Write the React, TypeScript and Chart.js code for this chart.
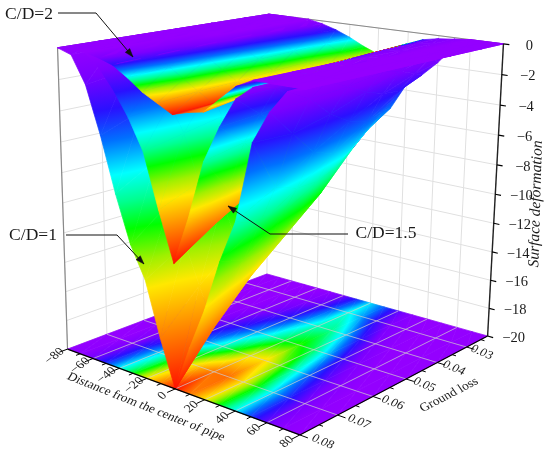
import React, { useEffect, useRef } from "react";
import { Chart, registerables } from "chart.js";
Chart.register(...registerables);

// ---------- data ----------
const distances = [-80, -70, -60, -50, -40, -30, -20, -10, 0, 10, 20, 30, 40, 50, 60, 70, 80];
const groundLoss = [0.0225, 0.03, 0.04, 0.05, 0.06, 0.07, 0.08];
const distanceTicks = [-80, -60, -40, -20, 0, 20, 40, 60, 80];
const groundLossTicks = [0.03, 0.04, 0.05, 0.06, 0.07, 0.08];
const depthTicks = [0, -2, -4, -6, -8, -10, -12, -14, -16, -18, -20];

const surfaceCD1 = [
  [0, 0, -0.1, -0.5, -1.5, -2.5, -4, -5.3, -6.4, -5.4, -3.6, -2.8, -1.8, -0.6, 0, 0, 0],
  [0, 0, -0.2, -0.8, -2, -3.5, -5, -6.5, -8, -6.5, -5, -3.5, -2.2, -0.9, -0.2, 0, 0],
  [0, 0, -0.4, -1.4, -3, -5, -7, -8.5, -10.5, -8.5, -7, -5, -3, -1.4, -0.4, 0, 0],
  [0, 0, -0.8, -2.2, -4.2, -6.5, -8.5, -10.5, -12.5, -10.5, -8.5, -6.5, -4.2, -2.2, -0.8, 0, 0],
  [0, -0.1, -1.2, -3, -5.5, -8, -10, -12.5, -14.5, -12.5, -10, -8, -5.5, -3, -1.2, -0.1, 0],
  [0, -0.2, -1.6, -4, -7, -9.5, -12, -14.5, -17, -14.5, -12, -9.5, -7, -3.6, -1.4, -0.2, 0],
  [0, -0.3, -2, -5, -8.5, -11.5, -13.5, -17, -20, -17, -14.3, -11, -8.3, -3.5, -1.6, -0.3, 0],
];
const surfaceCD15 = [
  [0, 0, 0, -0.2, -0.8, -1.6, -2.6, -3.8, -4.6, -3.6, -2.4, -1.4, -0.6, -0.1, 0, 0, 0],
  [0, 0, 0, -0.3, -1, -1.9, -3, -4.2, -5.4, -4.2, -3, -1.9, -0.8, -0.2, 0, 0, 0],
  [0, 0, 0, -0.4, -1.2, -2.2, -3.4, -5, -6.4, -5, -3.4, -2.2, -0.9, -0.3, 0, 0, 0],
  [0, 0, 0, -0.5, -1.4, -2.6, -4, -5.8, -7.5, -5.8, -3.8, -2.4, -1, -0.3, 0, 0, 0],
  [0, 0, 0, -0.6, -1.6, -2.9, -4.4, -6.8, -8.9, -6.8, -4.2, -2.6, -1, -0.3, 0, 0, 0],
  [0, 0, 0, -0.7, -1.8, -3.2, -4.9, -7.8, -10.3, -7.8, -4.7, -2.8, -1.1, -0.4, 0, 0, 0],
  [0, 0, 0, -0.8, -2, -3.5, -5.4, -8.8, -11.9, -8.8, -5.2, -3, -1.2, -0.4, 0, 0, 0],
];
const surfaceCD2 = [
  [0, 0, 0, 0, -0.2, -0.5, -0.9, -1.4, -1.8, -1.3, -0.8, -0.4, -0.2, -0.1, 0, 0, 0],
  [0, 0, 0, 0, -0.2, -0.5, -1, -1.5, -2, -1.4, -0.9, -0.5, -0.2, -0.1, 0, 0, 0],
  [0, 0, 0, 0, -0.2, -0.6, -1.1, -1.7, -2.2, -1.6, -1.1, -0.6, -0.2, -0.1, 0, 0, 0],
  [0, 0, 0, 0, -0.2, -0.7, -1.2, -1.8, -2.4, -1.8, -1.3, -0.8, -0.3, -0.05, 0, 0, 0],
  [0, 0, 0, -0.1, -0.3, -0.8, -1.4, -2, -2.5, -2.1, -1.6, -1, -0.4, 0, 0, 0, 0],
  [0, 0, 0, -0.1, -0.4, -0.9, -1.5, -2.1, -2.7, -2.3, -1.9, -1.2, -0.5, 0, 0, 0, 0],
  [0, 0, 0, -0.2, -0.5, -1.1, -1.8, -2.3, -2.8, -2.5, -2.3, -1.4, -0.5, 0, 0, 0, 0],
];
const floorLevels = [
  [0, 0, 0, 0, 0, 0.02, 0.08, 0.2, 0.35, 0.25, 0.12, 0.03, 0, 0, 0, 0, 0],
  [0, 0, 0, 0, 0.02, 0.06, 0.12, 0.25, 0.39, 0.3, 0.16, 0.06, 0.02, 0, 0, 0, 0],
  [0, 0, 0, 0.01, 0.05, 0.12, 0.2, 0.32, 0.42, 0.45, 0.33, 0.18, 0.06, 0.01, 0, 0, 0],
  [0, 0, 0, 0.05, 0.12, 0.2, 0.3, 0.4, 0.5, 0.55, 0.48, 0.32, 0.15, 0.06, 0.01, 0, 0],
  [0, 0, 0.03, 0.1, 0.2, 0.3, 0.42, 0.55, 0.68, 0.72, 0.6, 0.42, 0.25, 0.12, 0.04, 0, 0],
  [0, 0, 0.07, 0.2, 0.33, 0.47, 0.62, 0.76, 0.86, 0.87, 0.7, 0.52, 0.34, 0.2, 0.08, 0.01, 0],
  [0, 0.02, 0.1, 0.22, 0.37, 0.52, 0.7, 0.85, 1, 0.85, 0.7, 0.52, 0.37, 0.22, 0.1, 0.02, 0],
];

const rainbowStops: [number, string][] = [
  [0, "#9400ff"], [0.08, "#7a00ff"], [0.18, "#2a10ff"], [0.27, "#0070ff"], [0.37, "#00ffff"],
  [0.45, "#00ff90"], [0.53, "#00ff00"], [0.62, "#a0f000"], [0.7, "#ffe800"], [0.82, "#ff9000"], [1, "#ff1000"],
];

// ---------- box corners on screen (u, v, w) -> pixel ----------
const boxCorners: [number, number, number, number, number][] = [
  [0, 1, 0, 68, 349], [1, 1, 0, 300, 435], [1, 0, 0, 488, 336], [0, 0, 0, 266, 274],
  [0, 1, 1, 57, 48], [1, 1, 1, 305, 89], [1, 0, 1, 503, 44], [0, 0, 1, 270, 14],
];

function solve(A: number[][], b: number[]) {
  const n = b.length;
  const M = A.map((r, i) => [...r, b[i]]);
  for (let i = 0; i < n; i++) {
    let p = i;
    for (let k = i + 1; k < n; k++) if (Math.abs(M[k][i]) > Math.abs(M[p][i])) p = k;
    [M[i], M[p]] = [M[p], M[i]];
    for (let k = i + 1; k < n; k++) {
      const f = M[k][i] / M[i][i];
      for (let j = i; j <= n; j++) M[k][j] -= f * M[i][j];
    }
  }
  const x = new Array(n).fill(0);
  for (let i = n - 1; i >= 0; i--) {
    let s = M[i][n];
    for (let j = i + 1; j < n; j++) s -= M[i][j] * x[j];
    x[i] = s / M[i][i];
  }
  return x;
}
function fitCamera() {
  const rows: number[][] = [], rhs: number[] = [];
  for (const [X, Y, Z, x, y] of boxCorners) {
    rows.push([X, Y, Z, 1, 0, 0, 0, 0, -x * X, -x * Y, -x * Z]); rhs.push(x);
    rows.push([0, 0, 0, 0, X, Y, Z, 1, -y * X, -y * Y, -y * Z]); rhs.push(y);
  }
  const N = rows[0].map((_, i) => rows[0].map((_, j) => rows.reduce((s, r) => s + r[i] * r[j], 0)));
  const B = rows[0].map((_, i) => rows.reduce((s, r, k) => s + r[i] * rhs[k], 0));
  return solve(N, B);
}
const P = fitCamera();
const eye = solve(
  [[P[0], P[1], P[2]], [P[4], P[5], P[6]], [P[8], P[9], P[10]]],
  [-P[3], -P[7], -1]
);
const minGL = groundLoss[0], maxGL = groundLoss[groundLoss.length - 1];
const uOf = (d: number) => (d + 80) / 160;
const vOf = (g: number) => (g - minGL) / (maxGL - minGL);
const wOf = (z: number) => (z + 20) / 20;
function project(u: number, v: number, w: number) {
  const h = P[8] * u + P[9] * v + P[10] * w + 1;
  return { x: (P[0] * u + P[1] * v + P[2] * w + P[3]) / h, y: (P[4] * u + P[5] * v + P[6] * w + P[7]) / h };
}

function colorAt(t: number) {
  for (let i = 1; i < rainbowStops.length; i++) {
    if (t <= rainbowStops[i][0]) {
      const [a, ca] = rainbowStops[i - 1], [b, cb] = rainbowStops[i];
      const f = (t - a) / (b - a);
      const ch = (s: string, k: number) => parseInt(s.slice(1 + k * 2, 3 + k * 2), 16);
      const mix = [0, 1, 2].map((k) => Math.round(ch(ca, k) + (ch(cb, k) - ch(ca, k)) * f));
      return `rgb(${mix[0]},${mix[1]},${mix[2]})`;
    }
  }
  return rainbowStops[rainbowStops.length - 1][1];
}
function triangleFill(ctx: CanvasRenderingContext2D, p: any[], t: number[]) {
  const [a, b, c] = p;
  const det = (b.x - a.x) * (c.y - a.y) - (c.x - a.x) * (b.y - a.y);
  const d1 = t[1] - t[0], d2 = t[2] - t[0];
  if (Math.abs(det) < 1e-6 || (Math.abs(d1) < 1e-5 && Math.abs(d2) < 1e-5)) return colorAt((t[0] + t[1] + t[2]) / 3);
  const gx = (d1 * (c.y - a.y) - d2 * (b.y - a.y)) / det;
  const gy = (d2 * (b.x - a.x) - d1 * (c.x - a.x)) / det;
  const g2 = gx * gx + gy * gy;
  if (g2 < 1e-12) return colorAt(t[0]);
  const s0 = (0 - t[0]) / g2, s1 = (1 - t[0]) / g2;
  const gr = ctx.createLinearGradient(a.x + gx * s0, a.y + gy * s0, a.x + gx * s1, a.y + gy * s1);
  for (const [o, col] of rainbowStops) gr.addColorStop(o, col);
  return gr;
}

function buildDatasets(ctx: CanvasRenderingContext2D) {
  const ds: any[] = [];
  const line = (pts: any[], color: string, width: number) =>
    ds.push({ data: pts, showLine: true, borderColor: color, borderWidth: width, pointRadius: 0, fill: false, tension: 0 });
  const seg = (a: number[], b: number[], color: string, width: number) =>
    line([project(a[0], a[1], a[2]), project(b[0], b[1], b[2])], color, width);
  const tri = (p: any[], t: number[]) => {
    const col = triangleFill(ctx, p, t);
    ds.push({
      data: [p[0], p[1], p[2], p[0]], showLine: true, pointRadius: 0, tension: 0,
      fill: "shape", backgroundColor: col, borderColor: col, borderWidth: 0.7,
    });
  };

  // back walls' grid
  const wallGrid = "#e0e0e0";
  for (const z of depthTicks) {
    const w = wOf(z);
    seg([0, 1, w], [0, 0, w], wallGrid, 1);
    seg([0, 0, w], [1, 0, w], wallGrid, 1);
  }
  for (const d of distanceTicks) seg([uOf(d), 0, 0], [uOf(d), 0, 1], wallGrid, 1);
  for (const g of groundLossTicks) seg([0, vOf(g), 0], [0, vOf(g), 1], wallGrid, 1);
  seg([0, 1, 1], [0, 0, 1], "#8a8a8a", 1);
  seg([0, 0, 1], [1, 0, 1], "#8a8a8a", 1);
  seg([0, 1, 0], [0, 1, 1], "#8a8a8a", 1.2);

  // floor map
  for (let r = 0; r < groundLoss.length - 1; r++) {
    for (let c = 0; c < distances.length - 1; c++) {
      const q = [[c, r], [c + 1, r], [c + 1, r + 1], [c, r + 1]].map(([i, j]) => ({
        p: project(uOf(distances[i]), vOf(groundLoss[j]), 0), t: floorLevels[j][i],
      }));
      tri([q[0].p, q[1].p, q[2].p], [q[0].t, q[1].t, q[2].t]);
      tri([q[0].p, q[2].p, q[3].p], [q[0].t, q[2].t, q[3].t]);
    }
  }
  const floorGrid = "rgba(205,205,205,0.7)";
  for (const d of distanceTicks.slice(1, -1)) seg([uOf(d), 0, 0], [uOf(d), 1, 0], floorGrid, 1);
  for (const g of groundLossTicks.slice(0, -1)) seg([0, vOf(g), 0], [1, vOf(g), 0], floorGrid, 1);

  // surfaces, far cells first; the flat plate of the top sheet stays in front
  const cells: any[] = [];
  [surfaceCD1, surfaceCD15, surfaceCD2].forEach((s, si) => {
    const depth = Math.max(...s.flat().map((z) => -z));
    for (let r = 0; r < groundLoss.length - 1; r++) {
      for (let c = 0; c < distances.length - 1; c++) {
        const q = [[c, r], [c + 1, r], [c + 1, r + 1], [c, r + 1]].map(([i, j]) => {
          const u = uOf(distances[i]), v = vOf(groundLoss[j]), w = wOf(s[j][i]);
          return { p: project(u, v, w), t: -s[j][i] / depth, u, v, w };
        });
        for (const idx of [[0, 1, 2], [0, 2, 3]]) {
          const pts = idx.map((k) => q[k]);
          const cu = (pts[0].u + pts[1].u + pts[2].u) / 3, cv = (pts[0].v + pts[1].v + pts[2].v) / 3, cw = (pts[0].w + pts[1].w + pts[2].w) / 3;
          const plate = si === 2 && cu > 0.5 && pts.every((p) => p.t === 0);
          const dist = plate ? -1 : Math.hypot(cu - eye[0], cv - eye[1], cw - eye[2]);
          cells.push({ pts, dist });
        }
      }
    }
  });
  cells.sort((a, b) => b.dist - a.dist);
  for (const cell of cells) tri(cell.pts.map((q: any) => q.p), cell.pts.map((q: any) => q.t));

  // axes
  seg([0, 1, 0], [1, 1, 0], "#000", 1.2);
  seg([1, 1, 0], [1, 0, 0], "#000", 1.2);
  seg([1, 0, 0], [1, 0, 1], "#222", 1.4);
  for (let d = -80; d <= 80; d += 10) {
    const len = d % 20 === 0 ? 0.035 : 0.018;
    seg([uOf(d), 1, 0], [uOf(d), 1 + len, 0], "#000", 1);
  }
  for (let g = 0.025; g <= 0.0801; g += 0.005) {
    const major = Math.abs((g * 100) % 1) < 0.01 || Math.abs((g * 100) % 1) > 0.99;
    seg([1, vOf(g), 0], [1 + (major ? 0.03 : 0.015), vOf(g), 0], "#000", 1);
  }
  for (const z of depthTicks) seg([1, 0, wOf(z)], [1.022, 0, wOf(z)], "#000", 1.2);

  // callouts
  const callouts = [
    [[58, 13], [96, 13], [133, 57]],
    [[66, 235], [117, 235], [144, 264]],
    [[348, 234], [270, 234], [228, 206]],
  ];
  for (const c of callouts) {
    line(c.map(([x, y]) => ({ x, y })), "#111", 1);
    const [a, b] = c.slice(-2);
    const ang = Math.atan2(b[1] - a[1], b[0] - a[0]);
    const hx = (s: number, r: number) => ({ x: b[0] - 9 * Math.cos(ang + s * r), y: b[1] - 9 * Math.sin(ang + s * r) });
    const h = [{ x: b[0], y: b[1] }, hx(1, 0.33), hx(-1, 0.33), { x: b[0], y: b[1] }];
    ds.push({ data: h, showLine: true, pointRadius: 0, tension: 0, fill: "shape", backgroundColor: "#111", borderColor: "#111", borderWidth: 0.5 });
  }
  ds.forEach((d, i) => { d.order = ds.length - i; d.clip = false; });
  return ds;
}

const SERIF = '"Liberation Serif", "Times New Roman", serif';
const textPlugin = {
  id: "boxText",
  afterDraw(chart: any) {
    const { ctx } = chart;
    const sx = (v: number) => chart.scales.x.getPixelForValue(v);
    const sy = (v: number) => chart.scales.y.getPixelForValue(v);
    const put = (s: string, x: number, y: number, font: string, m: number[] = [1, 0, 0, 1], color = "#1a1a1a") => {
      ctx.save();
      ctx.setTransform(m[0], m[1], m[2], m[3], sx(x), sy(y));
      ctx.font = font; ctx.fillStyle = color; ctx.textAlign = "center"; ctx.textBaseline = "middle";
      ctx.fillText(s, 0, 0);
      ctx.restore();
    };
    const num = (n: number) => String(n).replace("-", "\u2212");
    for (const d of distanceTicks) {
      const p = project(uOf(d), 1, 0);
      put(num(d), p.x - 13, p.y + 7, `13px ${SERIF}`, [0.78, -0.62, 0.72, 0.62]);
    }
    for (const g of groundLossTicks) {
      const v = vOf(g);
      const p = project(1, v, 0);
      put(g.toFixed(2), p.x + 14 + 9 * v, p.y + 5 + 2 * v, `13px ${SERIF}`, [0.92, 0.38, -0.5, 0.8]);
    }
    for (const z of depthTicks) {
      const p = project(1, 0, wOf(z));
      put(num(z), p.x + 26, p.y + 2, `14.5px ${SERIF}`);
    }
    put("Distance from the center of pipe", 146, 407, `13px ${SERIF}`, [0.93, 0.37, -0.5, 0.82]);
    put("Ground loss", 449, 395, `13px ${SERIF}`, [0.89, -0.46, 0.55, 0.8]);
    put("Surface deformation", 536, 204, `italic 15.5px ${SERIF}`, [0.03, -1, 1, 0.03]);
    put("C/D=2", 29, 14, `17.5px ${SERIF}`);
    put("C/D=1", 33, 235, `17.5px ${SERIF}`);
    put("C/D=1.5", 386, 233, `17.5px ${SERIF}`);
  },
};

export default function App() {
  const ref = useRef<HTMLCanvasElement>(null);
  useEffect(() => {
    document.body.style.margin = "0";
    const canvas = ref.current!;
    const ctx = canvas.getContext("2d")!;
    const chart = new Chart(ctx, {
      type: "scatter",
      data: { datasets: buildDatasets(ctx) },
      options: {
        responsive: false,
        animation: false,
        events: [],
        layout: { padding: 0 },
        plugins: { legend: { display: false }, tooltip: { enabled: false }, filler: { propagate: false } },
        scales: {
          x: { type: "linear", min: 0, max: 550, display: false },
          y: { type: "linear", min: 0, max: 456, reverse: true, display: false },
        },
      },
      plugins: [textPlugin],
    } as any);
    return () => chart.destroy();
  }, []);
  return <canvas ref={ref} width={550} height={456} style={{ display: "block", background: "#fff" }} />;
}
